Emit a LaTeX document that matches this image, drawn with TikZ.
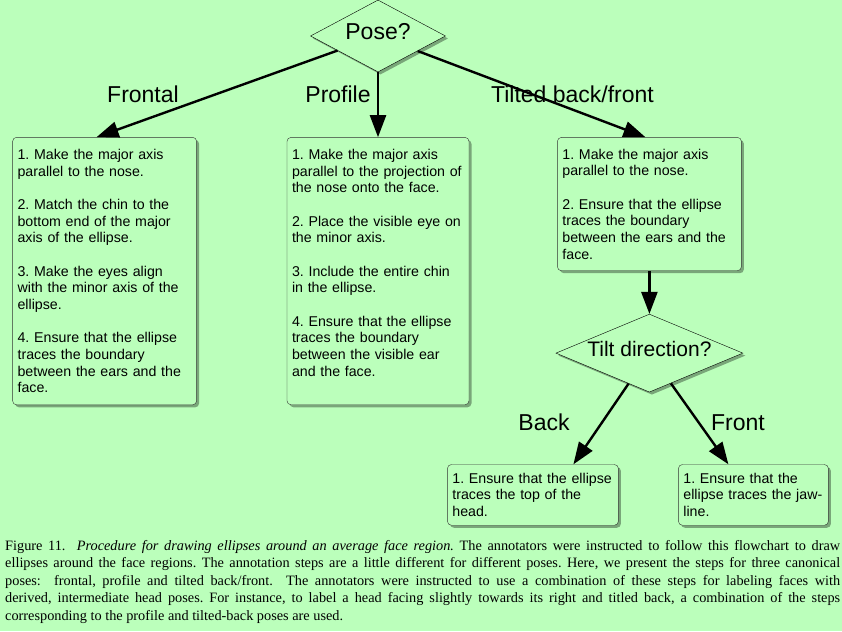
\documentclass[tikz,border=0pt]{standalone}
\usepackage{fontspec}
\setmainfont{Liberation Serif}
\setsansfont{Liberation Sans}
\usepackage{xcolor}
\usepackage{tikz}
\usetikzlibrary{shapes,arrows.meta,positioning}
\usetikzlibrary{shadows}
\usetikzlibrary{calc}
\frenchspacing
\hyphenpenalty=10000
\exhyphenpenalty=10000
\definecolor{bggreen}{RGB}{187,255,187}
\tikzstyle{block} = [rectangle, draw=black!80, fill=bggreen, 
    rounded corners=4pt, align=left, inner xsep=5pt, inner ysep=12pt,
    font=\sffamily\fontsize{14.2}{16.65}\selectfont,
    drop shadow={shadow xshift=2.5pt, shadow yshift=-2.5pt, fill=black, opacity=0.35}]
\tikzstyle{line} = [draw, line width=2.4pt, -{Triangle[length=22pt,width=16pt]}]

\begin{document}
\begin{tikzpicture}[x=1pt, y=1pt, node distance=2cm]
    % Style definitions
    \tikzstyle{decision} = [diamond, draw, fill=bggreen, shape aspect=2.4,
        inner sep=0pt, text depth=9pt, font=\sffamily,
        drop shadow={shadow xshift=2.5pt, shadow yshift=-2.5pt, fill=black, opacity=0.35}]
    \tikzstyle{branch} = [anchor=base, font=\sffamily\fontsize{23}{27}\selectfont]
    \tikzstyle{figtext} = [text width=835pt, align=justify, inner sep=0pt,
        font=\fontsize{14.3}{17.5}\selectfont]

    % Background
    \fill [bggreen] (0,0) rectangle (842,631);
    \useasboundingbox (0,0) rectangle (842,631);

    % Decision nodes
    \node [decision, minimum width=135pt, minimum height=72pt,
        font=\sffamily\fontsize{23}{27}\selectfont] (pose) at (378,595) {Pose?};

    % Pose blocks
    \node [block, text width=172pt, below=65pt of pose] (profile) {1. Make the major axis\\
        parallel to the projection of\\the nose onto the face.\\[16.65pt]
        2. Place the visible eye on\\the minor axis.\\[16.65pt]
        3. Include the entire chin\\in the ellipse.\\[16.65pt]
        4. Ensure that the ellipse\\traces the boundary\\between the visible ear\\
        and the face.\\ \mbox{}};
    \node [block, text width=174pt, left=90pt of profile] (frontal) {1. Make the major axis\\
        parallel to the nose.\\[16.65pt]
        2. Match the chin to the\\bottom end of the major\\axis of the ellipse.\\[16.65pt]
        3. Make the eyes align\\with the minor axis of the\\ellipse.\\[16.65pt]
        4. Ensure that the ellipse\\traces the boundary\\between the ears and the\\face.};
    \node [block, text width=174pt, inner ysep=11.5pt, right=88pt of profile.north east,
        anchor=north west] (tilted) {1. Make the major axis\\parallel to the nose.\\[16.65pt]
        2. Ensure that the ellipse\\traces the boundary\\between the ears and the\\face.};

    % Tilt
    \node [decision, minimum width=187pt, minimum height=78pt,
        font=\sffamily\fontsize{21}{25}\selectfont, below=43pt of tilted] (tilt) {Tilt direction?};
    \node [block, text width=161pt, inner ysep=8.5pt, below=72pt of tilt,
        xshift=-116.5pt] (back) {1. Ensure that the ellipse\\traces the top of the\\head.};
    \node [block, text width=140pt, inner ysep=8.5pt, below=72pt of tilt,
        xshift=104pt] (front) {1. Ensure that the\\ellipse traces the jaw-\\line.};

    % Connections
    \path [line] (pose) -- ([xshift=-8pt]frontal.north);
    \path [line] (pose) -- (profile);
    \path [line] (pose) -- ([xshift=-4pt]tilted.north);
    \path [line] (tilted) -- (tilt);
    \path [line] (tilt) -- ([xshift=40.5pt]back.north);
    \path [line] (tilt) -- ([xshift=-25pt]front.north);

    % Branch labels
    \node [branch] at (143,528) {Frontal};
    \node [branch] at (338,528) {Profile};
    \node [branch] at (572.5,528) {Tilted back/front};
    \node [branch] at (544,200) {Back};
    \node [branch] at (738,200) {Front};

    % Caption
    \node [figtext, anchor=north west] (caption) at (5,91) {Figure 11.\ \ \textit{Procedure
        for drawing ellipses around an average face region.} The annotators were instructed
        to follow this flowchart to draw\linebreak
        ellipses around the face regions. The annotation steps are a little different for
        different poses. Here, we present the steps for three canonical\linebreak
        poses:\ \ frontal, profile and tilted back/front.\ \ The annotators were instructed
        to use a combination of these steps for labeling faces with\linebreak
        derived, intermediate head poses. For instance, to label a head facing slightly
        towards its right and titled back, a combination of the steps\linebreak
        corresponding to the profile and tilted-back poses are used.};
\end{tikzpicture}
\end{document}
